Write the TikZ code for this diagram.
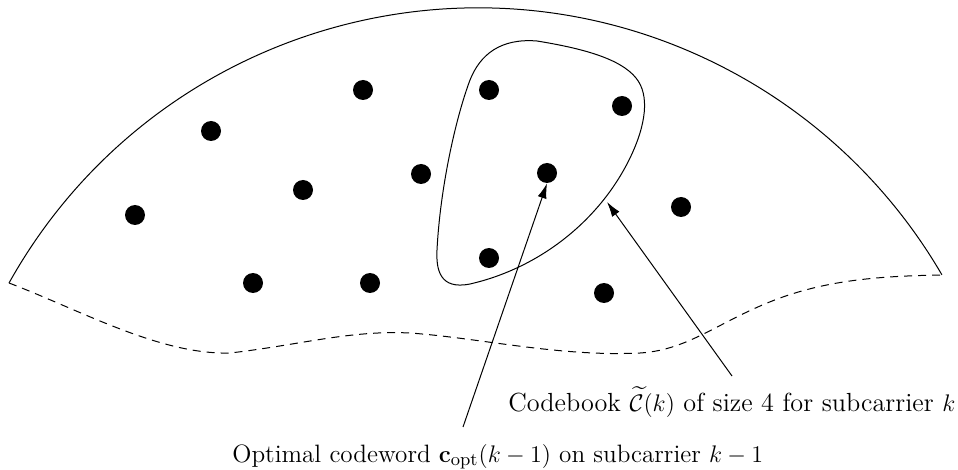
\documentclass[tikz,border=0pt]{standalone}
\usepackage{amsmath,amssymb}
\usetikzlibrary{arrows.meta}
\begin{document}
\begin{tikzpicture}[x=0.5pt,y=-0.5pt,
  dot/.style={circle,fill=black,inner sep=0pt,minimum size=10pt},
  lbl/.style={inner sep=0pt,anchor=base west},
  arr/.style={line width=0.5pt,-{Latex[length=7.5pt,width=4.5pt]}},
  edge/.style={line width=0.5pt},
  dashedge/.style={line width=0.5pt,dash pattern=on 4pt off 3pt}]
\useasboundingbox (0,0) rectangle (958,470);
% upper arc (circular)
\draw[edge] (477.8,544.9) ++(209.2:537) arc[start angle=209.2,end angle=329.8,radius=537];
% dashed lower boundary
\draw[dashedge] (9,283) .. controls (80,310) and (160,355) .. (230,353)
  .. controls (300,345) and (350,330) .. (410,333)
  .. controls (480,338) and (560,357) .. (640,353)
  .. controls (690,350) and (720,320) .. (780,298)
  .. controls (830,280) and (880,276) .. (942,275);
% codebook loop
\draw[edge] (537,41) .. controls (580,48) and (620,58) .. (636,78)
  .. controls (650,95) and (646,125) .. (630,158)
  .. controls (600,220) and (540,268) .. (470,284)
  .. controls (440,290) and (436,270) .. (437,250)
  .. controls (440,190) and (455,120) .. (470,80)
  .. controls (480,55) and (500,38) .. (537,41) -- cycle;
% dots
\node[dot] (d1) at (363,90) {};
\node[dot] (d2) at (489,90) {};
\node[dot] (d3) at (622,106) {};
\node[dot] (d4) at (211,131) {};
\node[dot] (d5) at (303,190) {};
\node[dot] (d6) at (421,174) {};
\node[dot] (d7) at (547,173) {};
\node[dot] (d8) at (135,215) {};
\node[dot] (d9) at (681,207) {};
\node[dot] (d10) at (489,258) {};
\node[dot] (d11) at (253,283) {};
\node[dot] (d12) at (370,283) {};
\node[dot] (d13) at (604,293) {};
% labels
\node[lbl,font=\fontsize{13.1}{16}\selectfont] (cb) at (508,411) {Codebook $\widetilde{\mathcal{C}}(k)$ of size 4 for subcarrier $k$};
\node[lbl,font=\fontsize{12.57}{15}\selectfont] (oc) at (232,462) {Optimal codeword $\mathbf{c}_{\mathrm{opt}}(k-1)$ on subcarrier $k-1$};
\coordinate (a1) at (463,427);
\coordinate (a2) at (732,376);
\coordinate (t2) at (607,202);
\draw[arr] (a1) -- (d7.south);
\draw[arr] (a2) -- (t2);
\end{tikzpicture}
\end{document}
